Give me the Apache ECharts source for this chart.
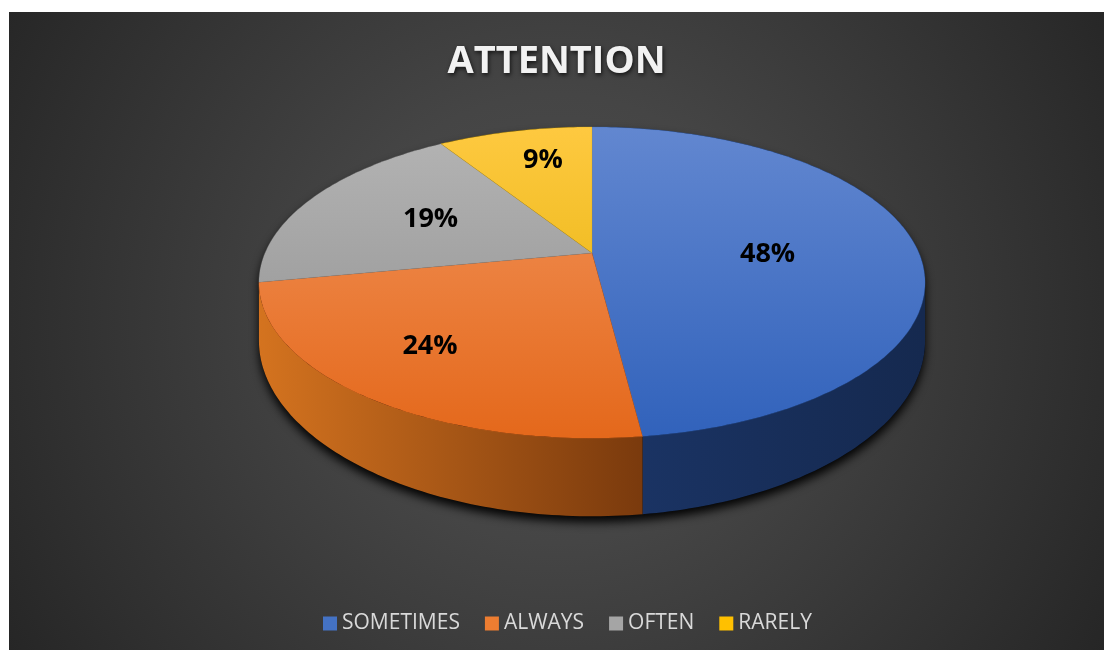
<!DOCTYPE html>
<html>
<head>
<meta charset="utf-8">
<script src="https://cdn.jsdelivr.net/npm/echarts@6/dist/echarts.min.js"></script>
<style>
  html, body { margin: 0; padding: 0; background: #ffffff; width: 1104px; height: 650px; overflow: hidden; }
  #chart {
    position: absolute; left: 9px; top: 12px; width: 1095px; height: 638px;
    background: radial-gradient(circle farthest-corner at 50% 48%, #4e4e4e 0%, #454545 35%, #262626 100%);
  }
</style>
</head>
<body>
<div id="chart"></div>
<script>
// Survey answers for "ATTENTION" (percent of respondents)
const categories = ['SOMETIMES', 'ALWAYS', 'OFTEN', 'RARELY'];
const shares = [48, 24, 19, 9];
const titleText = 'ATTENTION';

// Palette: flat legend colour, top face (light -> dark), side wall (left -> right)
const baseColors = ['#4472c4', '#ed7d31', '#a5a5a5', '#ffc000'];
const topColors = [['#6287d0', '#3162bb'], ['#f2955d', '#e4681b'], ['#b4b4b4', '#8e8e8e'], ['#fec940', '#e0ae00']];
const sideColors = [['#1a3363', '#15294f'], ['#d4731f', '#7a3a0d'], ['#8a8a8a', '#5a5a5a'], ['#c89a00', '#8a6a00']];

// 3D pie geometry (pixels inside the chart box)
const GEO = { cx: 583, cy: 241, A: 327, B: 150, P: 0.19, HD: 54.8, Q: 0.298 };
const SIL = Math.acos(-GEO.P) * 180 / Math.PI; // silhouette angle of the side wall

// Angle ranges, clockwise from 12 o'clock
const total = shares.reduce((s, v) => s + v, 0);
const ranges = [];
{
  let acc = 0;
  shares.forEach(v => { const a0 = acc / total * 360; acc += v; ranges.push([a0, acc / total * 360]); });
}

function project(r, deg, depth) {
  const t = deg * Math.PI / 180;
  const u = r * Math.sin(t), v = r * Math.cos(t);
  const d = 1 + GEO.P * v;
  return [GEO.cx + GEO.A * u / d, GEO.cy - GEO.B * v / d + depth * GEO.HD / (1 + GEO.Q * v)];
}

function arc(a0, a1, depth) {
  const pts = [];
  const n = Math.max(2, Math.ceil(Math.abs(a1 - a0)));
  for (let k = 0; k <= n; k++) pts.push(project(1, a0 + (a1 - a0) * k / n, depth));
  return pts;
}

function labelPos(a0, a1) {
  const m = (a0 + a1) / 2 * Math.PI / 180;
  const u = Math.sin(m), v = Math.cos(m);
  // labels of front slices sit further out, clear of the side wall
  const kx = 0.538 * GEO.A * (1 + 0.7 * Math.max(0, -v));
  return [GEO.cx + kx * u, GEO.cy - 0.7 * GEO.B * v + 8];
}

function renderSlice(params, api) {
  const a0 = api.value(0), a1 = api.value(1), i = api.value(2);
  const children = [];

  if (params.seriesIndex === 0) {
    // soft drop shadow under the whole disc
    const outline = arc(SIL, 360 - SIL, 1).concat(arc(360 - SIL, 360 + SIL, 0));
    children.push({
      type: 'polygon', z2: -5, shape: { points: outline },
      style: { fill: '#000', shadowColor: 'rgba(0,0,0,0.95)', shadowBlur: 10, shadowOffsetY: 6 }
    });
  }

  // visible outer wall
  const lo = Math.max(a0, SIL), hi = Math.min(a1, 360 - SIL);
  if (hi > lo) {
    const topEdge = arc(lo, hi, 0);
    const botEdge = arc(hi, lo, 1);
    const xs = topEdge.map(p => p[0]);
    const x0 = Math.min(...xs), x1 = Math.max(...xs);
    children.push({
      type: 'polygon', z2: 1, shape: { points: topEdge.concat(botEdge) },
      style: { fill: new echarts.graphic.LinearGradient(x0, 0, x1, 0, [
        { offset: 0, color: sideColors[i][0] }, { offset: 1, color: sideColors[i][1] }], true) }
    });
  }

  // top face
  const face = [project(0, 0, 0)].concat(arc(a0, a1, 0));
  const yTop = GEO.cy - GEO.B / (1 + GEO.P), yBot = GEO.cy + GEO.B / (1 - GEO.P);
  children.push({
    type: 'polygon', z2: 10, shape: { points: face },
    style: { fill: new echarts.graphic.LinearGradient(0, yTop, 0, yBot, [
      { offset: 0, color: topColors[i][0] }, { offset: 1, color: topColors[i][1] }], true),
      stroke: topColors[i][1], lineWidth: 0.3 }
  });

  const lp = labelPos(a0, a1);
  children.push({
    type: 'text', z2: 20, x: lp[0], y: lp[1],
    style: { text: Math.round(shares[i] / total * 100) + '%', fill: '#000',
      font: 'bold 27px "Open Sans"', align: 'center', verticalAlign: 'middle' }
  });

  return { type: 'group', children };
}

const chart = echarts.init(document.getElementById('chart'), null, { renderer: 'canvas' });
chart.setOption({
  animation: false,
  backgroundColor: 'transparent',
  title: {
    text: titleText, left: 'center', top: 26,
    textStyle: { color: '#f2f2f2', fontSize: 38, fontWeight: 'bold', fontFamily: 'Open Sans',
      textShadowColor: 'rgba(0,0,0,0.7)', textShadowBlur: 4, textShadowOffsetX: 1, textShadowOffsetY: 2 }
  },
  legend: {
    data: categories, left: 309, top: 596, icon: 'rect', itemWidth: 14, itemHeight: 14, itemGap: 25,
    selectedMode: false,
    textStyle: { color: '#d9d9d9', fontSize: 21, fontFamily: 'Open Sans' }
  },
  series: categories.map((name, i) => ({
    type: 'custom', name, coordinateSystem: 'none',
    itemStyle: { color: baseColors[i] },
    renderItem: renderSlice,
    data: [[ranges[i][0], ranges[i][1], i]]
  }))
});
</script>
</body>
</html>
